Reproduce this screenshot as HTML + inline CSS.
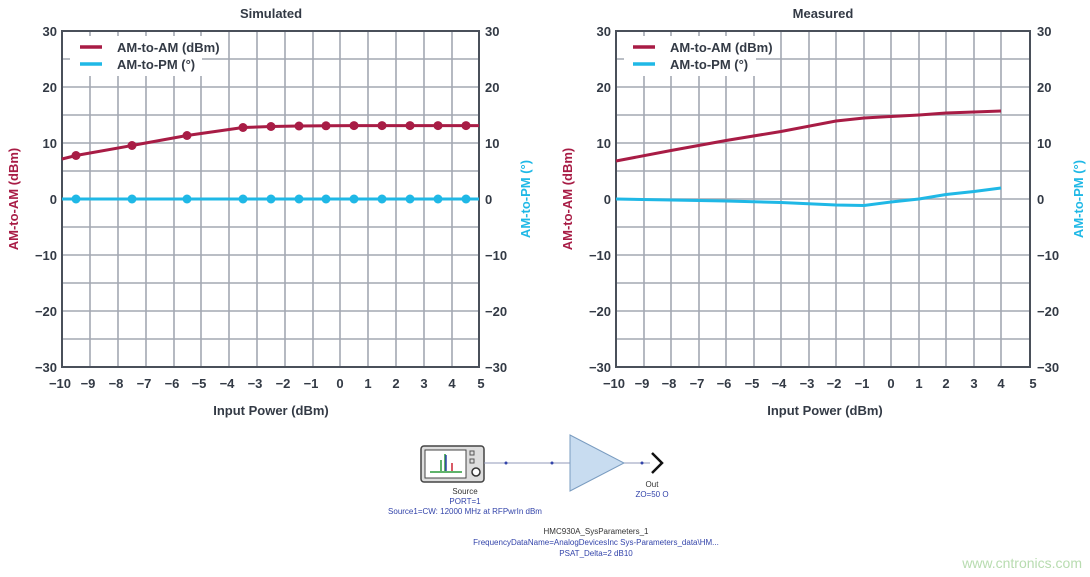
<!DOCTYPE html>
<html><head><meta charset="utf-8"><style>
body{margin:0;background:#fff;width:1090px;height:577px;overflow:hidden}
svg{display:block}
text{font-family:"Liberation Sans",sans-serif;font-weight:bold;fill:#333a45}
</style></head><body>
<svg width="1090" height="577" xmlns="http://www.w3.org/2000/svg">
<defs></defs>
<g id="L"></g>
<script>
</script>
<!-- LEFT CHART -->
<g stroke="#a3a8b2" stroke-width="1.6">
<path d="M90,31V367M118,31V367M146,31V367M174,31V367M201,31V367M229,31V367M257,31V367M285,31V367M313,31V367M340,31V367M368,31V367M396,31V367M424,31V367M452,31V367"/>
<path d="M62,59H479M62,87H479M62,115H479M62,143H479M62,171H479M62,199H479M62,227H479M62,255H479M62,283H479M62,311H479M62,339H479"/>
<path d="M644,31V367M671,31V367M699,31V367M726,31V367M754,31V367M781,31V367M809,31V367M836,31V367M864,31V367M891,31V367M919,31V367M946,31V367M974,31V367M1001,31V367"/>
<path d="M616,59H1030M616,87H1030M616,115H1030M616,143H1030M616,171H1030M616,199H1030M616,227H1030M616,255H1030M616,283H1030M616,311H1030M616,339H1030"/>
</g>
<rect x="70" y="36" width="132" height="40" fill="#fff"/>
<rect x="624" y="36" width="132" height="40" fill="#fff"/>
<rect x="62" y="31" width="417" height="336" fill="none" stroke="#4a505a" stroke-width="2"/>
<rect x="616" y="31" width="414" height="336" fill="none" stroke="#4a505a" stroke-width="2"/>
<!-- legends -->
<g stroke-width="3.5">
<path d="M80,47H102" stroke="#a81c45"/><path d="M80,64H102" stroke="#1fb8e6"/>
<path d="M633,47H655" stroke="#a81c45"/><path d="M633,64H655" stroke="#1fb8e6"/>
</g>
<g font-size="13">
<text x="117" y="52">AM-to-AM (dBm)</text><text x="117" y="69">AM-to-PM (°)</text>
<text x="670" y="52">AM-to-AM (dBm)</text><text x="670" y="69">AM-to-PM (°)</text>
</g>
<!-- titles -->
<text x="271" y="18" font-size="13" text-anchor="middle">Simulated</text>
<text x="823" y="18" font-size="13" text-anchor="middle">Measured</text>
<!-- y tick labels -->
<g font-size="13" text-anchor="end">
<text x="57" y="36">30</text><text x="57" y="92">20</text><text x="57" y="148">10</text><text x="57" y="204">0</text><text x="57" y="260">−10</text><text x="57" y="316">−20</text><text x="57" y="372">−30</text>
<text x="611" y="36">30</text><text x="611" y="92">20</text><text x="611" y="148">10</text><text x="611" y="204">0</text><text x="611" y="260">−10</text><text x="611" y="316">−20</text><text x="611" y="372">−30</text>
</g>
<g font-size="13" text-anchor="start">
<text x="485" y="36">30</text><text x="485" y="92">20</text><text x="485" y="148">10</text><text x="485" y="204">0</text><text x="485" y="260">−10</text><text x="485" y="316">−20</text><text x="485" y="372">−30</text>
<text x="1037" y="36">30</text><text x="1037" y="92">20</text><text x="1037" y="148">10</text><text x="1037" y="204">0</text><text x="1037" y="260">−10</text><text x="1037" y="316">−20</text><text x="1037" y="372">−30</text>
</g>
<!-- x tick labels -->
<g font-size="13" text-anchor="middle">
<text x="60" y="388">−10</text><text x="88" y="388">−9</text><text x="116" y="388">−8</text><text x="144" y="388">−7</text><text x="172" y="388">−6</text><text x="199" y="388">−5</text><text x="227" y="388">−4</text><text x="255" y="388">−3</text><text x="283" y="388">−2</text><text x="311" y="388">−1</text><text x="340" y="388">0</text><text x="368" y="388">1</text><text x="396" y="388">2</text><text x="424" y="388">3</text><text x="452" y="388">4</text><text x="481" y="388">5</text>
<text x="614" y="388">−10</text><text x="642" y="388">−9</text><text x="669" y="388">−8</text><text x="697" y="388">−7</text><text x="724" y="388">−6</text><text x="752" y="388">−5</text><text x="779" y="388">−4</text><text x="807" y="388">−3</text><text x="834" y="388">−2</text><text x="862" y="388">−1</text><text x="891" y="388">0</text><text x="919" y="388">1</text><text x="946" y="388">2</text><text x="974" y="388">3</text><text x="1001" y="388">4</text><text x="1033" y="388">5</text>
<text x="271" y="415">Input Power (dBm)</text>
<text x="825" y="415">Input Power (dBm)</text>
</g>
<!-- axis titles -->
<g font-size="13" text-anchor="middle">
<text transform="translate(18,199) rotate(-90)" style="fill:#a81c45">AM-to-AM (dBm)</text>
<text transform="translate(530,199) rotate(-90)" style="fill:#1fb8e6">AM-to-PM (°)</text>
<text transform="translate(572,199) rotate(-90)" style="fill:#a81c45">AM-to-AM (dBm)</text>
<text transform="translate(1083,199) rotate(-90)" style="fill:#1fb8e6">AM-to-PM (°)</text>
</g>
<!-- simulated series -->
<polyline fill="none" stroke="#1fb8e6" stroke-width="3" points="62,199 479,199"/>
<polyline fill="none" stroke="#a81c45" stroke-width="3" points="62,159 76,155.5 132,145.5 187,135.5 243,127.5 271,126.5 299,126 326,125.8 354,125.6 382,125.6 410,125.6 438,125.6 466,125.6 479,125.6"/>
<g fill="#a81c45">
<circle cx="76" cy="155.5" r="4.5"/><circle cx="132" cy="145.5" r="4.5"/><circle cx="187" cy="135.5" r="4.5"/><circle cx="243" cy="127.5" r="4.5"/><circle cx="271" cy="126.5" r="4.5"/><circle cx="299" cy="126" r="4.5"/><circle cx="326" cy="125.8" r="4.5"/><circle cx="354" cy="125.6" r="4.5"/><circle cx="382" cy="125.6" r="4.5"/><circle cx="410" cy="125.6" r="4.5"/><circle cx="438" cy="125.6" r="4.5"/><circle cx="466" cy="125.6" r="4.5"/>
</g>
<g fill="#1fb8e6">
<circle cx="76" cy="199" r="4.5"/><circle cx="132" cy="199" r="4.5"/><circle cx="187" cy="199" r="4.5"/><circle cx="243" cy="199" r="4.5"/><circle cx="271" cy="199" r="4.5"/><circle cx="299" cy="199" r="4.5"/><circle cx="326" cy="199" r="4.5"/><circle cx="354" cy="199" r="4.5"/><circle cx="382" cy="199" r="4.5"/><circle cx="410" cy="199" r="4.5"/><circle cx="438" cy="199" r="4.5"/><circle cx="466" cy="199" r="4.5"/>
</g>
<!-- measured series -->
<polyline fill="none" stroke="#a81c45" stroke-width="3" points="616,161 671,150.5 726,140.5 781,131.5 836,121 864,118 891,116.5 919,115 946,113 974,112 1001,111"/>
<polyline fill="none" stroke="#1fb8e6" stroke-width="3" points="616,199 671,200 726,201 781,202.5 836,205 864,205.5 891,202 919,199 946,194.5 974,191.5 1001,188"/>
<!-- schematic -->
<rect x="421" y="446" width="63" height="36" rx="3" fill="#ddd" stroke="#444" stroke-width="1.5"/>
<rect x="425" y="450" width="41" height="28" fill="#fff" stroke="#444"/>
<path d="M430,472H462" stroke="#2a9a3a" stroke-width="1.5"/>
<path d="M441,471V460M445,471V454" stroke="#2a9a3a" stroke-width="1.5"/>
<path d="M446,471V455" stroke="#3344aa" stroke-width="1.5"/>
<path d="M452,471V463" stroke="#cc2233" stroke-width="1.5"/>
<rect x="470" y="451" width="4" height="4" fill="none" stroke="#555"/><rect x="470" y="459" width="4" height="4" fill="none" stroke="#555"/>
<circle cx="476" cy="472" r="4" fill="#fff" stroke="#333" stroke-width="1.5"/>
<path d="M484,463H570M624,463H650" stroke="#9098b8" stroke-width="1"/>
<circle cx="506" cy="463" r="1.5" fill="#3344aa"/><circle cx="552" cy="463" r="1.5" fill="#3344aa"/><circle cx="642" cy="463" r="1.5" fill="#3344aa"/>
<path d="M570,435L624,463L570,491Z" fill="#c8dcf0" stroke="#7a9cc0"/>
<path d="M652,453L662,463L652,473" fill="none" stroke="#111" stroke-width="2.5"/>
<g style="font-weight:normal" font-size="8" text-anchor="middle">
<text x="465" y="494" style="font-weight:normal;fill:#333">Source</text>
<text x="465" y="504" style="font-weight:normal;fill:#3344aa">PORT=1</text>
<text x="465" y="514" style="font-weight:normal;fill:#3344aa">Source1=CW: 12000 MHz at RFPwrIn dBm</text>
<text x="652" y="487" style="font-weight:normal;fill:#333">Out</text>
<text x="652" y="497" style="font-weight:normal;fill:#3344aa">ZO=50 O</text>
<text x="596" y="534" style="font-weight:normal;fill:#333">HMC930A_SysParameters_1</text>
<text x="596" y="545" style="font-weight:normal;fill:#3344aa">FrequencyDataName=AnalogDevicesInc Sys-Parameters_data\HM...</text>
<text x="596" y="556" style="font-weight:normal;fill:#3344aa">PSAT_Delta=2 dB10</text>
</g>
<text x="1082" y="568" font-size="14" text-anchor="end" style="font-weight:normal;fill:#b8dcb0">www.cntronics.com</text>
</svg>
</body></html>
